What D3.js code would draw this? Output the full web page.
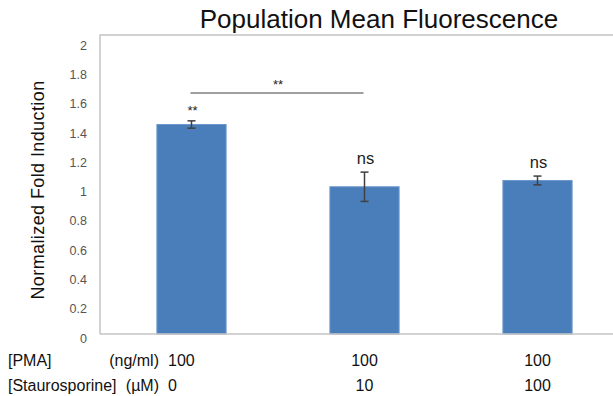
<!DOCTYPE html>
<html>
<head>
<meta charset="utf-8">
<script src="https://cdn.jsdelivr.net/npm/d3@7"></script>
<style>
  html, body { margin: 0; padding: 0; background: #fff; }
  svg { display: block; font-family: "Liberation Sans", Arial, sans-serif; }
</style>
</head>
<body>
<svg id="chart" width="613" height="396"></svg>
<script>
// chart data
let groups = ["A", "B", "C"];
let means = [1.43, 1.005, 1.048];
let errors = [0.025, 0.1, 0.03];
let marks = ["**", "ns", "ns"];
let yTicks = [0, 0.2, 0.4, 0.6, 0.8, 1, 1.2, 1.4, 1.6, 1.8, 2];
let pmaValues = ["100", "100", "100"];
let stauroValues = ["0", "10", "100"];
let bracket = { from: "A", to: "B", label: "**", level: 1.645 };

let svg = d3.select("#chart");

let margin = { top: 35, left: 100, right: 624, bottom: 334 };

let x = d3.scaleBand()
    .domain(groups)
    .range([margin.left + 5, margin.right])
    .paddingInner(0.6)
    .paddingOuter(0.3);

let y = d3.scaleLinear()
    .domain([0, 2])
    .range([margin.bottom, 41]);

// title
svg.append("text")
    .attr("x", 379)
    .attr("y", 28)
    .attr("text-anchor", "middle")
    .attr("font-size", 26)
    .attr("fill", "#111")
    .text("Population Mean Fluorescence");

// plot frame (left + top)
svg.append("path")
    .attr("d", "M" + margin.left + "," + margin.bottom + "V" + margin.top + "H613")
    .attr("fill", "none")
    .attr("stroke", "#c4c4c4")
    .attr("stroke-width", 1.5);

// y axis
let yAxis = svg.append("g")
    .attr("transform", "translate(" + margin.left + ",0)")
    .call(d3.axisLeft(y).tickValues(yTicks).tickSize(0).tickPadding(13).tickFormat(d3.format("")));
yAxis.select(".domain").remove();
yAxis.selectAll("text")
    .attr("font-family", "Liberation Sans, Arial, sans-serif")
    .attr("font-size", 12.5)
    .attr("fill", "#555")
    .attr("dy", "0.65em");

// y axis title
svg.append("text")
    .attr("transform", "translate(44,190) rotate(-90)")
    .attr("text-anchor", "middle")
    .attr("font-size", 18)
    .attr("letter-spacing", 0.4)
    .attr("fill", "#111")
    .text("Normalized Fold Induction");

// bars
svg.selectAll(".bar")
    .data(groups)
    .enter().append("rect")
    .attr("class", "bar")
    .attr("x", function (d) { return x(d); })
    .attr("y", function (d, i) { return y(means[i]); })
    .attr("width", x.bandwidth())
    .attr("height", function (d, i) { return y(0) - y(means[i]); })
    .attr("fill", "#4a7ebb")
    .attr("stroke", "#6e98cc")
    .attr("stroke-width", 1);

// x axis line
svg.append("line")
    .attr("x1", margin.left)
    .attr("x2", 613)
    .attr("y1", y(0))
    .attr("y2", y(0))
    .attr("stroke", "#c4c4c4")
    .attr("stroke-width", 1.5);

// error bars
let eb = svg.selectAll(".err")
    .data(groups)
    .enter().append("g")
    .attr("class", "err")
    .attr("stroke", "#404040")
    .attr("stroke-width", 1.5);
eb.append("line")
    .attr("x1", function (d) { return x(d) + x.bandwidth() / 2; })
    .attr("x2", function (d) { return x(d) + x.bandwidth() / 2; })
    .attr("y1", function (d, i) { return y(means[i] + errors[i]); })
    .attr("y2", function (d, i) { return y(means[i] - errors[i]); });
eb.each(function (d, i) {
    let cx = x(d) + x.bandwidth() / 2;
    [means[i] + errors[i], means[i] - errors[i]].forEach(function (v) {
        d3.select(this).append("line")
            .attr("x1", cx - 4).attr("x2", cx + 4)
            .attr("y1", y(v)).attr("y2", y(v));
    }, this);
});

// significance marks above bars
svg.selectAll(".mark")
    .data(groups)
    .enter().append("text")
    .attr("class", "mark")
    .attr("x", function (d) { return x(d) + x.bandwidth() / 2 + 1; })
    .attr("y", function (d, i) { return y(means[i] + errors[i]) - (marks[i] === "ns" ? 8 : 6); })
    .attr("text-anchor", "middle")
    .attr("font-size", function (d, i) { return marks[i] === "ns" ? 16.5 : 13; })
    .attr("fill", "#222")
    .text(function (d, i) { return marks[i]; });

// bracket between groups
let bx1 = x(bracket.from) + x.bandwidth() / 2 - 1;
let bx2 = x(bracket.to) + x.bandwidth() / 2 - 1;
svg.append("line")
    .attr("x1", bx1).attr("x2", bx2)
    .attr("y1", y(bracket.level)).attr("y2", y(bracket.level))
    .attr("stroke", "#7f7f7f")
    .attr("stroke-width", 1.5);
svg.append("text")
    .attr("x", (bx1 + bx2) / 2 + 1)
    .attr("y", y(bracket.level) - 4)
    .attr("text-anchor", "middle")
    .attr("font-size", 13)
    .attr("fill", "#222")
    .text(bracket.label);

// condition table under the axis
let rowY = [366, 391];
let rowNames = ["[PMA]", "[Staurosporine]"];
let rowUnits = ["(ng/ml)", "(\u00b5M)"];
let rowVals = [pmaValues, stauroValues];
rowNames.forEach(function (name, r) {
    svg.append("text")
        .attr("x", 8).attr("y", rowY[r])
        .attr("font-size", 16).attr("fill", "#111")
        .text(name);
    svg.append("text")
        .attr("x", 159).attr("y", rowY[r])
        .attr("text-anchor", "end")
        .attr("font-size", 16).attr("fill", "#111")
        .text(rowUnits[r]);
    svg.selectAll(".row" + r)
        .data(groups)
        .enter().append("text")
        .attr("x", function (d, i) { return i === 0 ? 168 : x(d) + x.bandwidth() / 2; })
        .attr("y", rowY[r])
        .attr("text-anchor", function (d, i) { return i === 0 ? "start" : "middle"; })
        .attr("font-size", 16).attr("fill", "#111")
        .text(function (d, i) { return rowVals[r][i]; });
});
</script>
</body>
</html>
